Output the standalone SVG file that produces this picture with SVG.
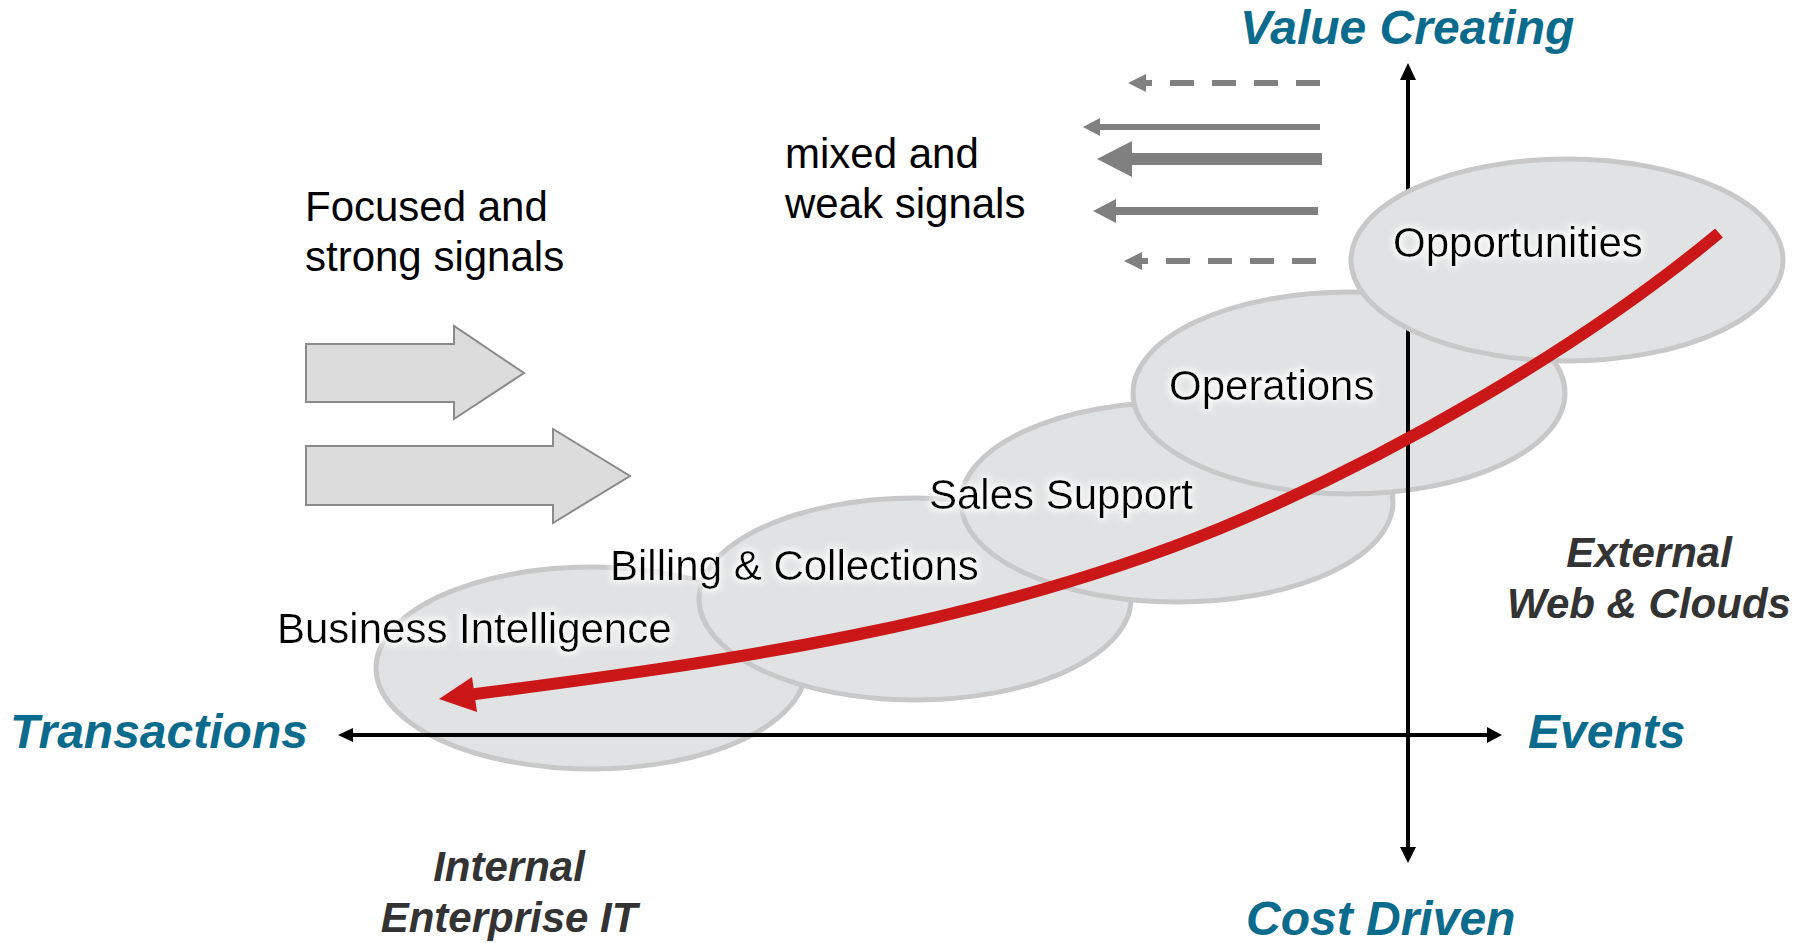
<svg xmlns="http://www.w3.org/2000/svg" width="1811" height="943" viewBox="0 0 1811 943">
<defs>
<style>
.lbl{font-family:"Liberation Sans",Arial,sans-serif;font-size:42px;fill:#000}
.axis{font-family:"Liberation Sans",Arial,sans-serif;font-size:48px;font-weight:bold;font-style:italic;fill:#0b6b8c}
.zone{font-family:"Liberation Sans",Arial,sans-serif;font-size:42px;font-weight:bold;font-style:italic;fill:#333333;text-anchor:middle}
.ell{fill:#e1e2e3;stroke:#c8c8c8;stroke-width:5}
.blk{fill:#dcdcdc;stroke:#8a8a8a;stroke-width:2}
.sig{stroke:#808080;fill:none}
.head{fill:#808080}
.ax{stroke:#000;stroke-width:4;fill:none}
</style>
<filter id="glow" x="-10%" y="-40%" width="120%" height="180%">
<feMorphology in="SourceAlpha" operator="dilate" radius="2" result="d"/>
<feGaussianBlur in="d" stdDeviation="3" result="b"/>
<feFlood flood-color="#ffffff" flood-opacity="0.9"/>
<feComposite in2="b" operator="in" result="g"/>
<feMerge><feMergeNode in="g"/><feMergeNode in="SourceGraphic"/></feMerge>
</filter>
</defs>
<rect width="1811" height="943" fill="#ffffff"/>

<g id="focused-label">
<text class="lbl" x="305" y="221">Focused and</text>
<text class="lbl" x="305" y="271">strong signals</text>
</g>
<g id="strong-arrow-1"><polygon class="blk" points="306,344 454,344 454,326 524,373 454,419 454,402 306,402"/></g>
<g id="strong-arrow-2"><polygon class="blk" points="306,446 553,446 553,429 630,476 553,523 553,505 306,505"/></g>

<g id="mixed-label">
<text class="lbl" x="785" y="168">mixed and</text>
<text class="lbl" x="785" y="218">weak signals</text>
</g>

<g id="weak-signals">
<line class="sig" x1="1320" y1="83" x2="1146" y2="83" stroke-width="6" stroke-dasharray="24 18"/>
<polygon class="head" points="1128,83 1146,74 1146,92"/>
<line class="sig" x1="1320" y1="127" x2="1098" y2="127" stroke-width="6"/>
<polygon class="head" points="1083,127 1100,118 1100,136"/>
<line class="sig" x1="1322" y1="159" x2="1128" y2="159" stroke-width="12"/>
<polygon class="head" points="1097,159 1132,141 1132,177"/>
<line class="sig" x1="1318" y1="211" x2="1112" y2="211" stroke-width="8"/>
<polygon class="head" points="1093,211 1116,199 1116,223"/>
<line class="sig" x1="1316" y1="261" x2="1142" y2="261" stroke-width="6" stroke-dasharray="24 18"/>
<polygon class="head" points="1124,261 1142,252 1142,270"/>
</g>

<g id="business-intelligence"><ellipse class="ell" cx="591" cy="668" rx="215" ry="101"/></g>
<g id="billing-collections"><ellipse class="ell" cx="915" cy="599" rx="216" ry="101"/></g>
<g id="sales-support"><ellipse class="ell" cx="1177" cy="502" rx="216" ry="100"/></g>
<g id="operations"><ellipse class="ell" cx="1349" cy="393" rx="216" ry="101"/></g>

<g id="connectors">
<line class="ax" x1="350" y1="735" x2="1490" y2="735"/>
<polygon points="338,735 353,728 353,742"/>
<polygon points="1502,735 1487,727 1487,743"/>
<line class="ax" x1="1408" y1="78" x2="1408" y2="850"/>
<polygon points="1408,63 1400,80 1416,80"/>
<polygon points="1408,863 1400,847 1416,847"/>
</g>

<g id="opportunities"><ellipse class="ell" cx="1567" cy="260" rx="216" ry="101"/></g>

<g id="node-labels" filter="url(#glow)">
<text class="lbl" x="1393" y="257">Opportunities</text>
<text class="lbl" x="1169" y="400">Operations</text>
<text class="lbl" x="929" y="509">Sales Support</text>
<text class="lbl" x="610" y="580">Billing &amp; Collections</text>
<text class="lbl" x="277" y="643">Business Intelligence</text>
</g>

<g id="trend-curve">
<path d="M1719,233 C1581,348 1387,459 1221,528 C985,625 726,662 468,695" fill="none" stroke="#cc1719" stroke-width="12"/>
<polygon points="439,699 472,677 477,712" fill="#cc1719"/>
</g>

<g id="axis-labels">
<text class="axis" x="1240" y="44">Value Creating</text>
<text class="axis" x="10" y="748">Transactions</text>
<text class="axis" x="1528" y="748">Events</text>
<text class="axis" x="1246" y="935">Cost Driven</text>
</g>
<g id="zone-labels">
<text class="zone" x="1649" y="567">External</text>
<text class="zone" x="1649" y="618">Web &amp; Clouds</text>
<text class="zone" x="509" y="881">Internal</text>
<text class="zone" x="509" y="932">Enterprise IT</text>
</g>
</svg>
